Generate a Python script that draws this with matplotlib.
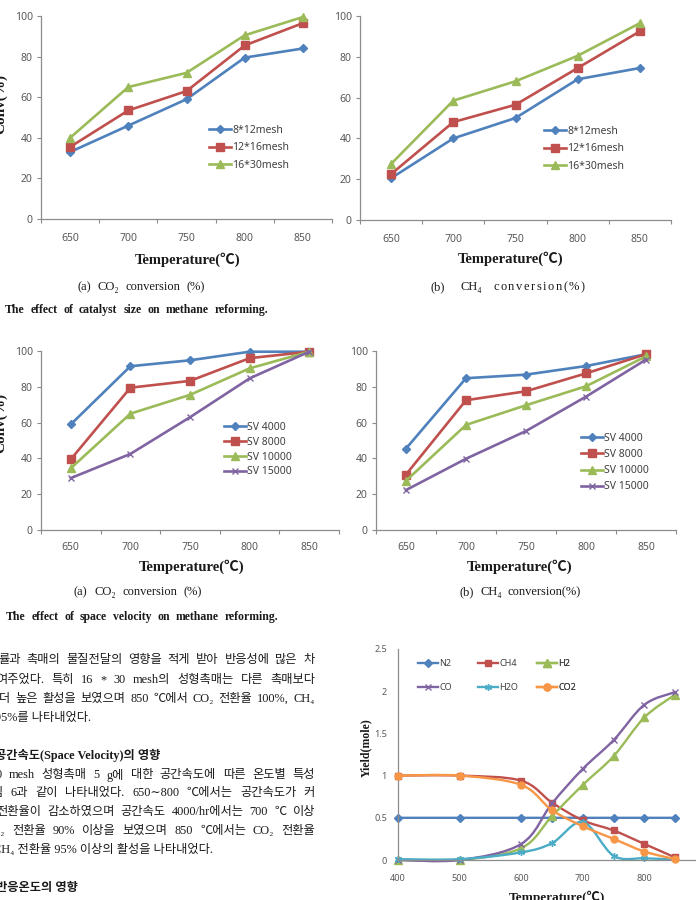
import matplotlib
matplotlib.use("Agg")
import matplotlib.pyplot as plt
from matplotlib.lines import Line2D
from matplotlib.path import Path
from matplotlib.patches import PathPatch

# ---------------- data ----------------
temps_cat = ['650', '700', '750', '800', '850']

size_labels = ['8*12mesh', '12*16mesh', '16*30mesh']
co2_size_8_12 = [33, 46, 59, 79.5, 84]
co2_size_12_16 = [35.5, 53.5, 63, 85.5, 96.5]
co2_size_16_30 = [40, 65, 72, 90.5, 99.5]
ch4_size_8_12 = [20.5, 40, 50, 69, 74.5]
ch4_size_12_16 = [22.5, 48, 56.5, 74.5, 92.5]
ch4_size_16_30 = [27.5, 58.5, 68, 80.5, 96.5]

sv_labels = ['SV 4000', 'SV 8000', 'SV 10000', 'SV 15000']
co2_sv_4000 = [59, 91.5, 94.8, 99.6, 99.6]
co2_sv_8000 = [39.5, 79.5, 83.3, 96, 99.6]
co2_sv_10000 = [34.5, 65, 75.5, 90.3, 99.6]
co2_sv_15000 = [29, 42.5, 63, 84.7, 99.6]
ch4_sv_4000 = [45.5, 84.8, 86.8, 91.6, 98.2]
ch4_sv_8000 = [31, 72.5, 77.5, 87.5, 98.2]
ch4_sv_10000 = [27.5, 58.7, 69.7, 80.3, 97]
ch4_sv_15000 = [22.3, 39.8, 55.3, 74.5, 95.2]

yield_temps = [400, 500, 600, 650, 700, 750, 800, 850]
yield_labels = ['N2', 'CH4', 'H2', 'CO', 'H2O', 'CO2']
y_N2 = [0.5, 0.5, 0.5, 0.5, 0.5, 0.5, 0.5, 0.5]
y_CH4 = [1.0, 1.0, 0.94, 0.68, 0.47, 0.35, 0.19, 0.03]
y_H2 = [0.0, 0.0, 0.14, 0.52, 0.89, 1.23, 1.69, 1.96]
y_CO = [0.0, 0.0, 0.19, 0.67, 1.08, 1.42, 1.84, 1.99]
y_H2O = [0.01, 0.01, 0.09, 0.20, 0.45, 0.05, 0.02, 0.01]
y_CO2 = [1.0, 1.0, 0.89, 0.59, 0.40, 0.25, 0.10, 0.01]

conv_ticks = [0, 20, 40, 60, 80, 100]
yield_yticks = [0, 0.5, 1, 1.5, 2, 2.5]
yield_yticklabels = ['0', '0.5', '1', '1.5', '2', '2.5']
yield_xticks = [400, 500, 600, 700, 800]

# ---------------- style ----------------
BLUE = '#4F81BD'
RED = '#C0504D'
GREEN = '#9BBB59'
PURPLE = '#8064A2'
AQUA = '#4BACC6'
ORANGE = '#F79646'
AXC = '#8C8C8C'
TXC = '#595959'

SANS = ['Noto Sans', 'DejaVu Sans']
SERIF = ['Liberation Serif', 'Noto Sans CJK KR', 'DejaVu Serif']

W, H = 696, 900
fig = plt.figure(figsize=(W / 100, H / 100), dpi=100)
fig.patch.set_facecolor('white')


def add_ax(l, t, r, b):
    return fig.add_axes([l / W, 1 - b / H, (r - l) / W, (b - t) / H])


def fx(px):
    return px / W


def fy(py):
    return 1 - py / H


def style_axes(ax, lab_size, xpad):
    for s in ['top', 'right']:
        ax.spines[s].set_visible(False)
    for s in ['left', 'bottom']:
        ax.spines[s].set_color(AXC)
        ax.spines[s].set_linewidth(0.9)
    ax.tick_params(axis='y', which='major', direction='out', length=3, width=0.8,
                   color=AXC, labelsize=lab_size, labelcolor=TXC, pad=3)
    ax.tick_params(axis='x', which='major', direction='out', length=3, width=0.8,
                   color=AXC, labelsize=lab_size, labelcolor=TXC, pad=xpad)
    for lab in ax.get_xticklabels(which='both') + ax.get_yticklabels():
        lab.set_family(SANS)


def cat_chart(box, series, labels, styles, leg_xy, leg_pitch_px, xpad):
    ax = add_ax(*box)
    x = list(range(len(temps_cat)))
    handles = []
    for vals, lab, (c, m, ms, mew) in zip(series, labels, styles):
        h, = ax.plot(x, vals, color=c, lw=1.9, marker=m, markersize=ms,
                     markeredgewidth=mew, markerfacecolor=c, markeredgecolor=c,
                     label=lab, clip_on=False)
        handles.append(h)
    ax.set_xlim(-0.5, len(temps_cat) - 0.5)
    ax.set_ylim(0, 100)
    ax.set_yticks(conv_ticks)
    ax.set_yticklabels([str(v) for v in conv_ticks])
    ax.set_xticks([i - 0.5 for i in range(len(temps_cat) + 1)])
    ax.set_xticklabels([])
    ax.set_xticks(x, minor=True)
    ax.set_xticklabels(temps_cat, minor=True)
    ax.tick_params(axis='x', which='minor', length=0, labelsize=7.5,
                   labelcolor=TXC, pad=xpad)
    style_axes(ax, 7.5, xpad)
    fs = 7.5
    fspx = fs / 72 * 100
    leg = ax.legend(handles=handles, loc='upper left',
                    bbox_to_anchor=(fx(leg_xy[0]), fy(leg_xy[1])),
                    bbox_transform=fig.transFigure, frameon=False,
                    borderpad=0, borderaxespad=0, handlelength=2.1,
                    handletextpad=0.15,
                    labelspacing=(leg_pitch_px - 1.36 * fspx) / fspx,
                    prop={'family': SANS, 'size': fs})
    for t in leg.get_texts():
        t.set_color('#404040')
    return ax


def smooth_path(xs, ys):
    pts = list(zip(xs, ys))
    verts = [pts[0]]
    codes = [Path.MOVETO]
    n = len(pts)
    for i in range(n - 1):
        p0 = pts[i - 1] if i > 0 else pts[i]
        p1 = pts[i]
        p2 = pts[i + 1]
        p3 = pts[i + 2] if i + 2 < n else pts[i + 1]
        c1 = (p1[0] + (p2[0] - p0[0]) / 6, p1[1] + (p2[1] - p0[1]) / 6)
        c2 = (p2[0] - (p3[0] - p1[0]) / 6, p2[1] - (p3[1] - p1[1]) / 6)
        verts += [c1, c2, p2]
        codes += [Path.CURVE4] * 3
    return Path(verts, codes)


# ---------------- top row: catalyst size ----------------
size_styles = [(BLUE, 'D', 4.2, 1), (RED, 's', 6.0, 1), (GREEN, '^', 6.3, 1)]
ax1 = cat_chart((41, 16, 332, 219), [co2_size_8_12, co2_size_12_16, co2_size_16_30],
                size_labels, size_styles, (209, 125), 20.5, 10)
ax2 = cat_chart((360, 16, 671, 220), [ch4_size_8_12, ch4_size_12_16, ch4_size_16_30],
                size_labels, size_styles, (544, 126), 20.5, 10)

# ---------------- middle row: space velocity ----------------
sv_styles = [(BLUE, 'D', 4.2, 1), (RED, 's', 6.0, 1), (GREEN, '^', 6.3, 1),
             (PURPLE, 'x', 5.0, 1.0)]
ax3 = cat_chart((41, 351, 339, 530), [co2_sv_4000, co2_sv_8000, co2_sv_10000, co2_sv_15000],
                sv_labels, sv_styles, (224, 422), 18.0, 9)
ax4 = cat_chart((376, 351, 676, 530), [ch4_sv_4000, ch4_sv_8000, ch4_sv_10000, ch4_sv_15000],
                sv_labels, sv_styles, (581, 433), 19.3, 9)

# ---------------- bottom right: yield ----------------
ax5 = add_ax(398, 649, 706, 860)
ax5.set_xlim(400, 900)
ax5.set_ylim(0, 2.5)
yield_series = [y_N2, y_CH4, y_H2, y_CO, y_H2O, y_CO2]
yield_styles = [(BLUE, 'D', 3.6, 1), (RED, 's', 5.0, 1), (GREEN, '^', 5.2, 1),
                (PURPLE, 'x', 4.5, 1.0), (AQUA, (6, 2, 0), 5.0, 1.0), (ORANGE, 'o', 5.0, 1)]
yhandles = []
for k, (vals, lab, (c, m, ms, mew)) in enumerate(zip(yield_series, yield_labels, yield_styles)):
    patch = PathPatch(smooth_path(yield_temps, vals), facecolor='none', edgecolor=c,
                      lw=1.7, transform=ax5.transData, zorder=2 + k * 0.1, clip_on=False)
    ax5.add_patch(patch)
    ax5.plot(yield_temps, vals, ls='none', marker=m, markersize=ms, markeredgewidth=mew,
             color=c, markerfacecolor=c, markeredgecolor=c, zorder=2.05 + k * 0.1,
             clip_on=False)
    yhandles.append(Line2D([], [], color=c, lw=1.7, marker=m, markersize=ms,
                           markeredgewidth=mew, markerfacecolor=c, markeredgecolor=c,
                           label=lab))
ax5.set_yticks(yield_yticks)
ax5.set_yticklabels(yield_yticklabels)
ax5.set_xticks(yield_xticks)
ax5.set_xticklabels([str(v) for v in yield_xticks])
style_axes(ax5, 6.5, 10)
ax5.tick_params(axis='y', length=0, pad=8)
ax5.tick_params(axis='x', length=0, pad=10)

fs5 = 6.5
fs5px = fs5 / 72 * 100
col_x = [418, 478, 537]
for ci in range(3):
    hs = [yhandles[ci], yhandles[ci + 3]]
    lg = ax5.legend(handles=hs, loc='upper left',
                    bbox_to_anchor=(fx(col_x[ci]), fy(659)),
                    bbox_transform=fig.transFigure, frameon=False,
                    borderpad=0, borderaxespad=0, handlelength=2.2,
                    handletextpad=0.15,
                    labelspacing=(27 - 1.36 * fs5px) / fs5px,
                    prop={'family': SANS, 'size': fs5})
    for t in lg.get_texts():
        t.set_color('#404040')
    ax5.add_artist(lg)

# ---------------- axis titles ----------------
def temp_label(cx, cy, size=10.5, va='center'):
    fig.text(fx(cx), fy(cy), 'Temperature(℃)', ha='center', va=va,
             fontsize=size, fontweight='bold', family=SERIF, color='#1a1a1a')


temp_label(188, 260)
temp_label(511, 259)
temp_label(192, 567)
temp_label(520, 567)
temp_label(557, 891, size=9.5, va='top')

fig.text(fx(1), fy(104), 'Conv(%)', rotation=90, ha='center', va='center',
         fontsize=11, fontweight='bold', family=SERIF, color='#1a1a1a')
fig.text(fx(1), fy(423), 'Conv(%)', rotation=90, ha='center', va='center',
         fontsize=11, fontweight='bold', family=SERIF, color='#1a1a1a')
fig.text(fx(366), fy(748), 'Yield(mole)', rotation=90, ha='center', va='center',
         fontsize=8.5, fontweight='bold', family=SERIF, color='#1a1a1a')

# ---------------- captions & body text ----------------
renderer = fig.canvas.get_renderer()


def put_tokens(y, tokens, x0, x1, size, weight='normal', family=SERIF):
    objs = []
    widths = []
    for w in tokens:
        t = fig.text(0, fy(y), w, ha='left', va='center', fontsize=size,
                     fontweight=weight, family=family, color='#1a1a1a')
        objs.append(t)
        widths.append(t.get_window_extent(renderer).width * W / fig.bbox.width)
    gap = (x1 - x0 - sum(widths)) / max(len(tokens) - 1, 1)
    x = x0
    for t, wd in zip(objs, widths):
        t.set_x(fx(x))
        x += wd + gap


def put_line(y, text, x0, x1=None, size=8.5, weight='normal', family=SERIF):
    if x1 is None:
        fig.text(fx(x0), fy(y), text, ha='left', va='center', fontsize=size,
                 fontweight=weight, family=family, color='#1a1a1a')
        return
    put_tokens(y, text.split(' '), x0, x1, size, weight, family)


CAP = 9.0
put_line(287, '(a) CO₂ conversion (%)', 78, 205, size=CAP)
put_line(287, '(b) CH₄', 431, 482, size=CAP)
put_tokens(287, list('conversion(%)'), 493, 585, CAP)
put_line(310, 'The effect of catalyst size on methane reforming.', 5, 268, size=8.5,
         weight='bold')
put_line(592, '(a) CO₂ conversion (%)', 74, 202, size=CAP)
put_line(592, '(b) CH₄ conversion(%)', 460, 581, size=CAP)
put_line(617, 'The effect of space velocity on methane reforming.', 6, 278, size=8.5,
         weight='bold')

body = [
    (660, '률과 촉매의 물질전달의 영향을 적게 받아 반응성에 많은 차', -2, 315, 'normal'),
    (680, '여주었다. 특히 16 * 30 mesh의 성형촉매는 다른 촉매보다', -4, 315, 'normal'),
    (699, '더 높은 활성을 보였으며 850 ℃에서 CO₂ 전환율 100%, CH₄', -1, 315, 'normal'),
    (718, '95%를 나타내었다.', -5, None, 'normal'),
    (755, '공간속도(Space Velocity)의 영향', -5, None, 'bold'),
    (775, '30 mesh 성형촉매 5 g에 대한 공간속도에 따른 온도별 특성', -10, 315, 'normal'),
    (793, '림 6과 같이 나타내었다. 650∼800 ℃에서는 공간속도가 커', -8, 315, 'normal'),
    (812, '전환율이 감소하였으며 공간속도 4000/hr에서는 700 ℃ 이상', -4, 315, 'normal'),
    (831, 'CO₂ 전환율 90% 이상을 보였으며 850 ℃에서는 CO₂ 전환율', -16, 315, 'normal'),
    (850, 'CH₄ 전환율 95% 이상의 활성을 나타내었다.', -7, None, 'normal'),
    (888, '반응온도의 영향', -4, None, 'bold'),
]
for y, txt, x0, x1, wt in body:
    put_line(y, txt, x0, x1, size=8.8, weight=wt)

fig.savefig('out.png', dpi=100, facecolor='white')
